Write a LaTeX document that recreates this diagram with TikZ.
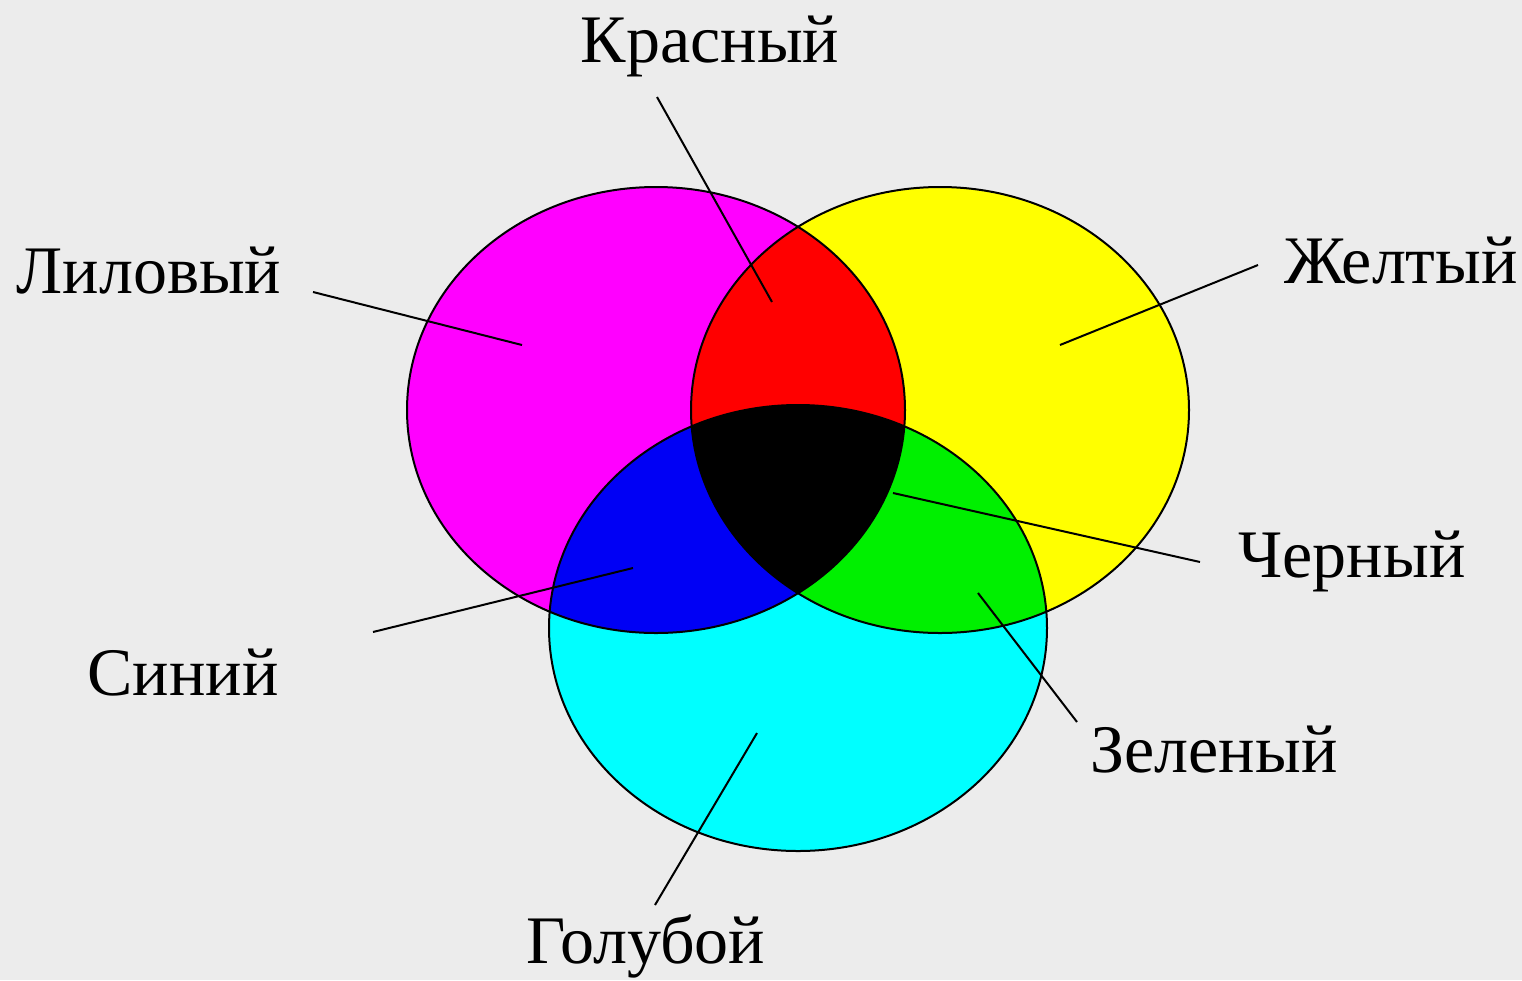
\documentclass[tikz,border=0pt]{standalone}
\usepackage{fontspec}
\setmainfont{Liberation Serif}
\usepackage{xcolor}
\usepackage{tikz}
\usetikzlibrary{positioning, calc}
\definecolor{paper}{HTML}{ECECEC}
\definecolor{magentafill}{HTML}{FF00FF}
\definecolor{yellowfill}{HTML}{FFFF00}
\definecolor{cyanfill}{HTML}{00FFFF}
\definecolor{redfill}{HTML}{FF0000}
\definecolor{bluefill}{HTML}{0000F5}
\definecolor{greenfill}{HTML}{00F000}
\definecolor{ink}{HTML}{000000}
\tikzset{
  lbl/.style  = {anchor=base, inner sep=0pt, text=ink,
                 font=\fontsize{68}{72}\selectfont},
  lead/.style = {draw=ink, line width=2pt},
  rim/.style  = {draw=ink, line width=2pt},
}

\begin{document}
\begin{tikzpicture}[x=1pt, y=-1pt]

  \path[fill=paper] (0,0) rectangle (1522,980);
  \useasboundingbox (0,0) rectangle (1522,980);

  % centres of the three colour discs
  \coordinate (mag) at (656,410);
  \coordinate (yel) at (940,410);
  \coordinate (cya) at (798,628);

  \fill[magentafill] (mag) ellipse [x radius=249pt, y radius=223pt];
  \fill[yellowfill] (yel) ellipse [x radius=249pt, y radius=223pt];
  \fill[cyanfill] (cya) ellipse [x radius=249pt, y radius=223pt];

  % pairwise overlaps
  \begin{scope}
    \clip (mag) ellipse [x radius=249pt, y radius=223pt];
    \fill[redfill] (yel) ellipse [x radius=249pt, y radius=223pt];
    \fill[bluefill] (cya) ellipse [x radius=249pt, y radius=223pt];
  \end{scope}
  \begin{scope}
    \clip (yel) ellipse [x radius=249pt, y radius=223pt];
    \fill[greenfill] (cya) ellipse [x radius=249pt, y radius=223pt];
  \end{scope}
  \begin{scope}
    \clip (mag) ellipse [x radius=249pt, y radius=223pt];
    \clip (yel) ellipse [x radius=249pt, y radius=223pt];
    \fill[ink] (cya) ellipse [x radius=249pt, y radius=223pt];
  \end{scope}

  \draw[rim] (mag) ellipse [x radius=249pt, y radius=223pt];
  \draw[rim] (yel) ellipse [x radius=249pt, y radius=223pt];
  \draw[rim] (cya) ellipse [x radius=249pt, y radius=223pt];

  % labels
  \node[lbl] (red)     at (710,62)  {Красный};
  \node[lbl] (magenta) at (149,293) {Лиловый};
  \node[lbl] (yellow)  at (1401,283) {Желтый};
  \node[lbl] (black)   at (1352,577) {Черный};
  \node[lbl] (blue)    at (183,695) {Синий};
  \node[lbl] (green)   at (1214,772) {Зеленый};
  \node[lbl] (cyan)    at (646,963) {Голубой};

  % leader lines
  \coordinate (red-a) at (657,97);     \coordinate (red-b) at (772,302);
  \coordinate (mag-a) at (313,292);    \coordinate (mag-b) at (522,345);
  \coordinate (yel-a) at (1258,265);   \coordinate (yel-b) at (1060,345);
  \coordinate (blk-a) at (1200,562);   \coordinate (blk-b) at (893,493);
  \coordinate (blu-a) at (373,632);    \coordinate (blu-b) at (633,568);
  \coordinate (grn-a) at (1077,722);   \coordinate (grn-b) at (978,593);
  \coordinate (cya-a) at (655,905);    \coordinate (cya-b) at (757,733);

  \draw[lead] (red-a) -- (red-b);
  \draw[lead] (mag-a) -- (mag-b);
  \draw[lead] (yel-a) -- (yel-b);
  \draw[lead] (blk-a) -- (blk-b);
  \draw[lead] (blu-a) -- (blu-b);
  \draw[lead] (grn-a) -- (grn-b);
  \draw[lead] (cya-a) -- (cya-b);

\end{tikzpicture}
\end{document}
